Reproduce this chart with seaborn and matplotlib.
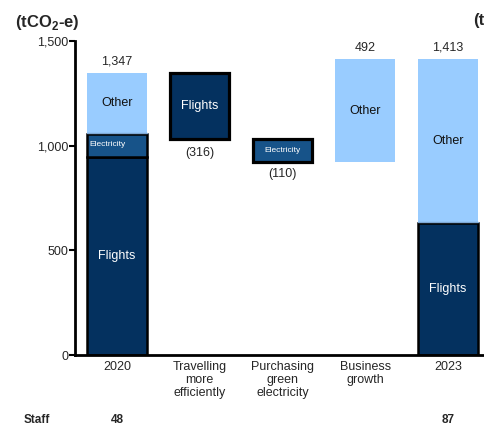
import numpy as np
import seaborn as sns
import matplotlib.pyplot as plt

# data (tCO2-e)
categories = ['2020', 'Travelling\nmore\nefficiently', 'Purchasing\ngreen\nelectricity', 'Business\ngrowth', '2023']
flights_2020 = 946
electricity_2020 = 110
other_2020 = 291
flights_change = -316
electricity_change = -110
other_change = 492
staff = ['48', '', '', '', '87']

navy = '#04315f'
mid_blue = '#175389'
light_blue = '#99ccff'

sns.set_style('ticks')
plt.rcParams['font.family'] = ['Liberation Sans', 'DejaVu Sans']
plt.rcParams['mathtext.fontset'] = 'custom'
plt.rcParams['mathtext.bf'] = 'Liberation Sans:bold'

fig = plt.figure(figsize=(4.85, 4.3), dpi=100)
ax = fig.add_axes([75 / 485, 75 / 430, 410 / 485, 314 / 430])

x = np.arange(len(categories))
w = 0.72

total_2020 = flights_2020 + electricity_2020 + other_2020
flights_2023 = flights_2020 + flights_change
other_2023 = other_2020 + other_change
total_2023 = flights_2023 + other_2023

# 2020 stack
ax.bar(x[0], flights_2020, w, color=navy, edgecolor='black', linewidth=1.8)
ax.bar(x[0], electricity_2020, w, bottom=flights_2020, color=mid_blue, edgecolor='black', linewidth=1.8)
ax.bar(x[0], other_2020, w, bottom=flights_2020 + electricity_2020, color=light_blue, linewidth=0)
ax.plot([x[0] - w / 2, x[0] + w / 2], [flights_2020 + electricity_2020 + 4] * 2, color='#7fa9d6', lw=1)

# waterfall steps
step1_top = total_2020
step1_bot = total_2020 + flights_change
ax.bar(x[1], -flights_change, w, bottom=step1_bot, color=navy, edgecolor='black', linewidth=2.3)
step2_bot = step1_bot + electricity_change
ax.bar(x[2], -electricity_change, w, bottom=step2_bot, color=mid_blue, edgecolor='black', linewidth=2.3)
ax.bar(x[3], other_change, w, bottom=step2_bot, color=light_blue, linewidth=0)

# 2023 stack
ax.bar(x[4], flights_2023, w, color=navy, edgecolor='black', linewidth=1.8)
ax.bar(x[4], other_2023, w, bottom=flights_2023, color=light_blue, linewidth=0)
ax.plot([x[4] - w / 2, x[4] + w / 2], [flights_2023 + 5] * 2, color='#7fa9d6', lw=1)

# segment labels
ax.text(x[0], flights_2020 / 2, 'Flights', color='white', ha='center', va='center', fontsize=9)
ax.text(x[0] - w / 2 + 0.03, flights_2020 + electricity_2020 / 2 + 5, 'Electricity', color='white',
        ha='left', va='center', fontsize=6)
ax.text(x[0], flights_2020 + electricity_2020 + other_2020 / 2, 'Other', color='#111111',
        ha='center', va='center', fontsize=9)
ax.text(x[1], (step1_top + step1_bot) / 2, 'Flights', color='white', ha='center', va='center', fontsize=9)
ax.text(x[2], (step1_bot + step2_bot) / 2, 'Electricity', color='white', ha='center', va='center', fontsize=6)
ax.text(x[3], step2_bot + other_change / 2, 'Other', color='#111111', ha='center', va='center', fontsize=9)
ax.text(x[4], flights_2023 / 2, 'Flights', color='white', ha='center', va='center', fontsize=9)
ax.text(x[4], flights_2023 + other_2023 / 2, 'Other', color='#111111', ha='center', va='center', fontsize=9)

# value labels
ax.text(x[0], total_2020 + 25, f'{total_2020:,}', ha='center', va='bottom', fontsize=9)
ax.text(x[1], step1_bot - 35, f'({-flights_change})', ha='center', va='top', fontsize=9)
ax.text(x[2], step2_bot - 28, f'({-electricity_change})', ha='center', va='top', fontsize=9)
ax.text(x[3], step2_bot + other_change + 25, f'{other_change}', ha='center', va='bottom', fontsize=9)
ax.text(x[4], total_2023 + 25, f'{total_2023:,}', ha='center', va='bottom', fontsize=9)

ax.set_xlim(-0.506, 4.446)
ax.set_ylim(0, 1500)
ax.set_yticks([0, 500, 1000, 1500])
ax.set_yticklabels(['0', '500', '1,000', '1,500'], fontsize=9)
ax.set_xticks(x)
ax.set_xticklabels(categories, fontsize=9, linespacing=1.15)
ax.tick_params(axis='x', length=0, pad=4)
ax.tick_params(axis='y', length=4, width=1.5, color='black', pad=1)
sns.despine(ax=ax)
ax.spines['left'].set_linewidth(2)
ax.spines['bottom'].set_linewidth(2)
ax.spines['left'].set_color('black')
ax.spines['bottom'].set_color('black')

fig.text(15 / 485, 1 - 22 / 430, r'(tCO$_\mathbf{2}$-e)', fontsize=12, fontweight='bold', va='center', ha='left')
# second axis title cut off at the right edge, as in the source slide
fig.text(473 / 485, 1 - 20 / 430, '(t', fontsize=12, fontweight='bold', va='center', ha='left')

# staff row
fig.text(24 / 485, 1 - 420 / 430, 'Staff', fontsize=8.5, fontweight='bold', va='center', ha='left')
for i, s in enumerate(staff):
    if s:
        xf = ax.transData.transform((x[i], 0))[0] / fig.bbox.width
        fig.text(xf, 1 - 420 / 430, s, fontsize=8.5, fontweight='bold', va='center', ha='center')

fig.savefig('out.png', dpi=100)
